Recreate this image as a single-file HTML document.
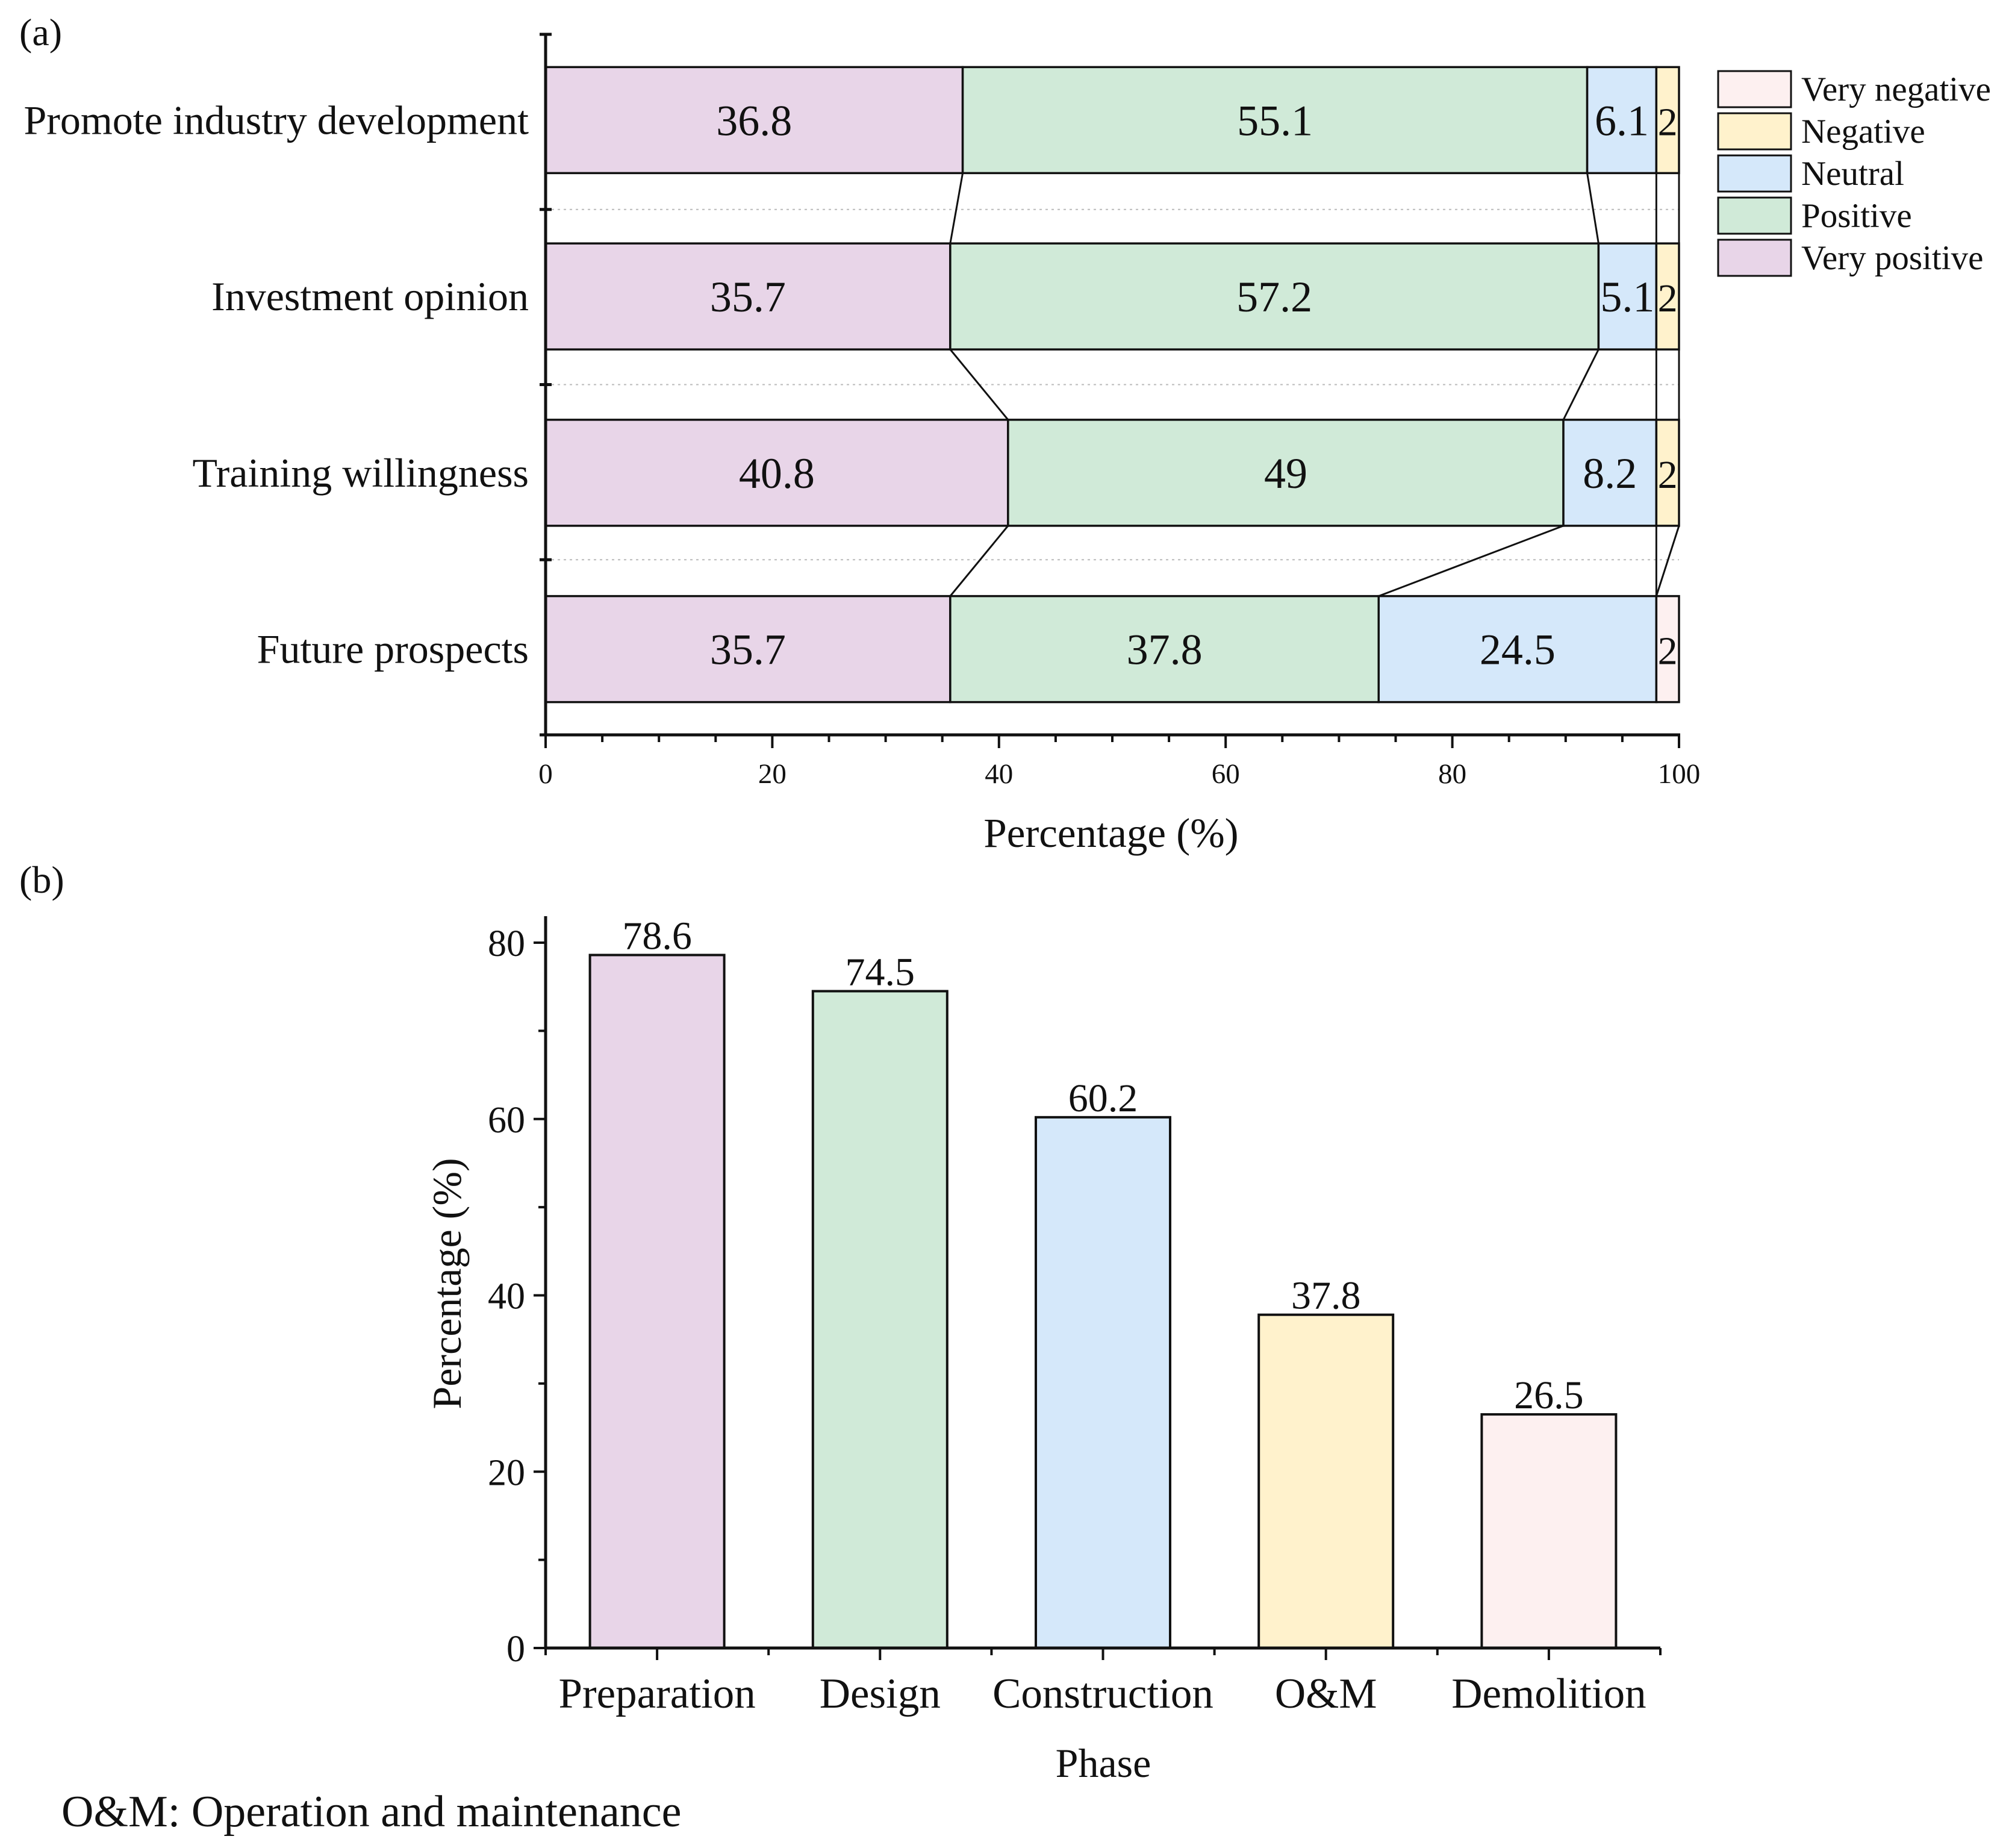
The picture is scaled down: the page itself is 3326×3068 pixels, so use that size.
<!DOCTYPE html>
<html><head><meta charset="utf-8"><style>
html,body{margin:0;padding:0;background:#fff}
svg{display:block}
text{font-family:"Liberation Serif",serif;fill:#111}
</style></head><body>
<svg id="svg" width="3326" height="3068" viewBox="0 0 3326 3068" xmlns="http://www.w3.org/2000/svg">
<g id="top"></g>
<g id="bot"></g>
</svg>
<script>
const topCats = ["Promote industry development","Investment opinion","Training willingness","Future prospects"];
const segNames = ["Very positive","Positive","Neutral","Negative","Very negative"];
const segColors = ["#e8d5e8","#d0ead8","#d5e8fa","#fff2cc","#fdf0f0"];
const veryPositive = [36.8,35.7,40.8,35.7];
const positive = [55.1,57.2,49,37.8];
const neutral = [6.1,5.1,8.2,24.5];
const negative = [2,2,2,0];
const veryNegative = [0,0,0,2];
const xTicks = [0,20,40,60,80,100];

const phases = ["Preparation","Design","Construction","O&M","Demolition"];
const phaseValues = [78.6,74.5,60.2,37.8,26.5];
const phaseColors = ["#e8d5e8","#d0ead8","#d5e8fa","#fff2cc","#fdf0f0"];
const yTicks = [0,20,40,60,80];

const NS="http://www.w3.org/2000/svg";
function mk(tag,attrs,parent,txt){const e=document.createElementNS(NS,tag);for(const k in attrs)e.setAttribute(k,attrs[k]);if(txt!==undefined)e.textContent=txt;parent.appendChild(e);return e;}

// ---- top chart
const T=document.getElementById('top');
const X0=906,X1=2788,YT=57,YB=1220;
const xs=v=>X0+(X1-X0)*v/100;
const band=(YB-YT)/4, barH=176;
const yc=i=>YT+band*(i+0.5)+ (i-1.5)*2;
const series=[veryPositive,positive,neutral,negative,veryNegative];
let t=mk('text',{x:32,y:75,'font-size':64},T,'(a)');


for(let i=1;i<4;i++){const y=YT+band*i;const g=mk('line',{x1:X0,x2:X1,y1:y,y2:y,stroke:'#bbb','stroke-width':2,'stroke-dasharray':'4 6'},T);

}
const cums=[];
topCats.forEach((c,i)=>{
  const y=yc(i)-barH/2; let acc=0; const cum=[];
  series.forEach((s,k)=>{
    const v=s[i];
    if(v>0){
      const r=mk('rect',{x:xs(acc),y:y,width:xs(acc+v)-xs(acc),height:barH,fill:segColors[k],stroke:'#111','stroke-width':3.5},T);
      
      
      const l=mk('text',{x:(xs(acc)+xs(acc+v))/2,y:yc(i)+25,'font-size':v<3?66:72,'text-anchor':'middle'},T,String(v));
      
      
    }
    acc+=v; cum.push(acc);
  });
  cums.push(cum);
  const cl=mk('text',{x:878,y:yc(i)+23,'font-size':68,'text-anchor':'end'},T,c);
  
  
});
for(let i=0;i<3;i++){for(let k=0;k<4;k++){
  const ln=mk('line',{x1:xs(cums[i][k]),y1:yc(i)+barH/2,x2:xs(cums[i+1][k]),y2:yc(i+1)-barH/2,stroke:'#111','stroke-width':3},T);
  
  
}}
let a=mk('line',{x1:X0,x2:X0,y1:YT,y2:YB,stroke:'#111','stroke-width':5},T);

a=mk('line',{x1:X0-2,x2:X1+2,y1:YB,y2:YB,stroke:'#111','stroke-width':5},T);

for(let i=0;i<=4;i++){const y=YT+band*i;const tk=mk('line',{x1:X0-10,x2:X0+10,y1:y,y2:y,stroke:'#111','stroke-width':5},T);
}
for(let v=0;v<=100;v+=5){const major=v%20===0;const tk=mk('line',{x1:xs(v),x2:xs(v),y1:YB,y2:YB+(major?22:12),stroke:'#111','stroke-width':4},T);
}
xTicks.forEach(v=>{const l=mk('text',{x:xs(v),y:1300,'font-size':47,'text-anchor':'middle'},T,String(v));
});
t=mk('text',{x:1845,y:1406,'font-size':69,'text-anchor':'middle'},T,'Percentage (%)');

const legOrder=[4,3,2,1,0];
legOrder.forEach((k,j)=>{const y=148+j*70;
  const r=mk('rect',{x:2853,y:y-30,width:121,height:60,fill:segColors[k],stroke:'#111','stroke-width':3},T);
  
  const l=mk('text',{x:2991,y:y+19,'font-size':57},T,segNames[k]);
  
});

// ---- bottom chart
const B=document.getElementById('bot');
const BX0=906,BX1=2757,BY0=2736,BYT=1521;
const ys=v=>BY0-(BY0-1565)*v/80;
const step=(BX1-BX0)/phases.length, bw=223;
t=mk('text',{x:32,y:1482,'font-size':64},B,'(b)');

phases.forEach((p,i)=>{const cx=BX0+step*(i+0.5);const v=phaseValues[i];
  const r=mk('rect',{x:cx-bw/2,y:ys(v),width:bw,height:BY0-ys(v),fill:phaseColors[i],stroke:'#111','stroke-width':4},B);
  
  const l=mk('text',{x:cx,y:ys(v)-10,'font-size':66,'text-anchor':'middle'},B,String(v));
  
  const c=mk('text',{x:cx,y:2835,'font-size':71,'text-anchor':'middle'},B,p);
  
  const tk=mk('line',{x1:cx,x2:cx,y1:BY0,y2:BY0+20,stroke:'#111','stroke-width':4},B);
  
});
for(let i=0;i<=phases.length;i++){const x=BX0+step*i;const tk=mk('line',{x1:x,x2:x,y1:BY0,y2:BY0+12,stroke:'#111','stroke-width':4},B);
}
a=mk('line',{x1:BX0,x2:BX0,y1:BYT,y2:BY0,stroke:'#111','stroke-width':5},B);

a=mk('line',{x1:BX0-2,x2:BX1,y1:BY0,y2:BY0,stroke:'#111','stroke-width':5},B);

for(let v=0;v<=80;v+=10){const major=v%20===0;const tk=mk('line',{x1:BX0-(major?20:12),x2:BX0,y1:ys(v),y2:ys(v),stroke:'#111','stroke-width':4},B);
}
yTicks.forEach(v=>{const l=mk('text',{x:872,y:ys(v)+22,'font-size':62,'text-anchor':'end'},B,String(v));
});
t=mk('text',{x:0,y:0,'font-size':68,'text-anchor':'middle',transform:'translate(765,2131) rotate(-90)'},B,'Percentage (%)');

t=mk('text',{x:1832,y:2950,'font-size':68,'text-anchor':'middle'},B,'Phase');

t=mk('text',{x:102,y:3032,'font-size':74},B,'O&M: Operation and maintenance');

</script>
</body></html>
